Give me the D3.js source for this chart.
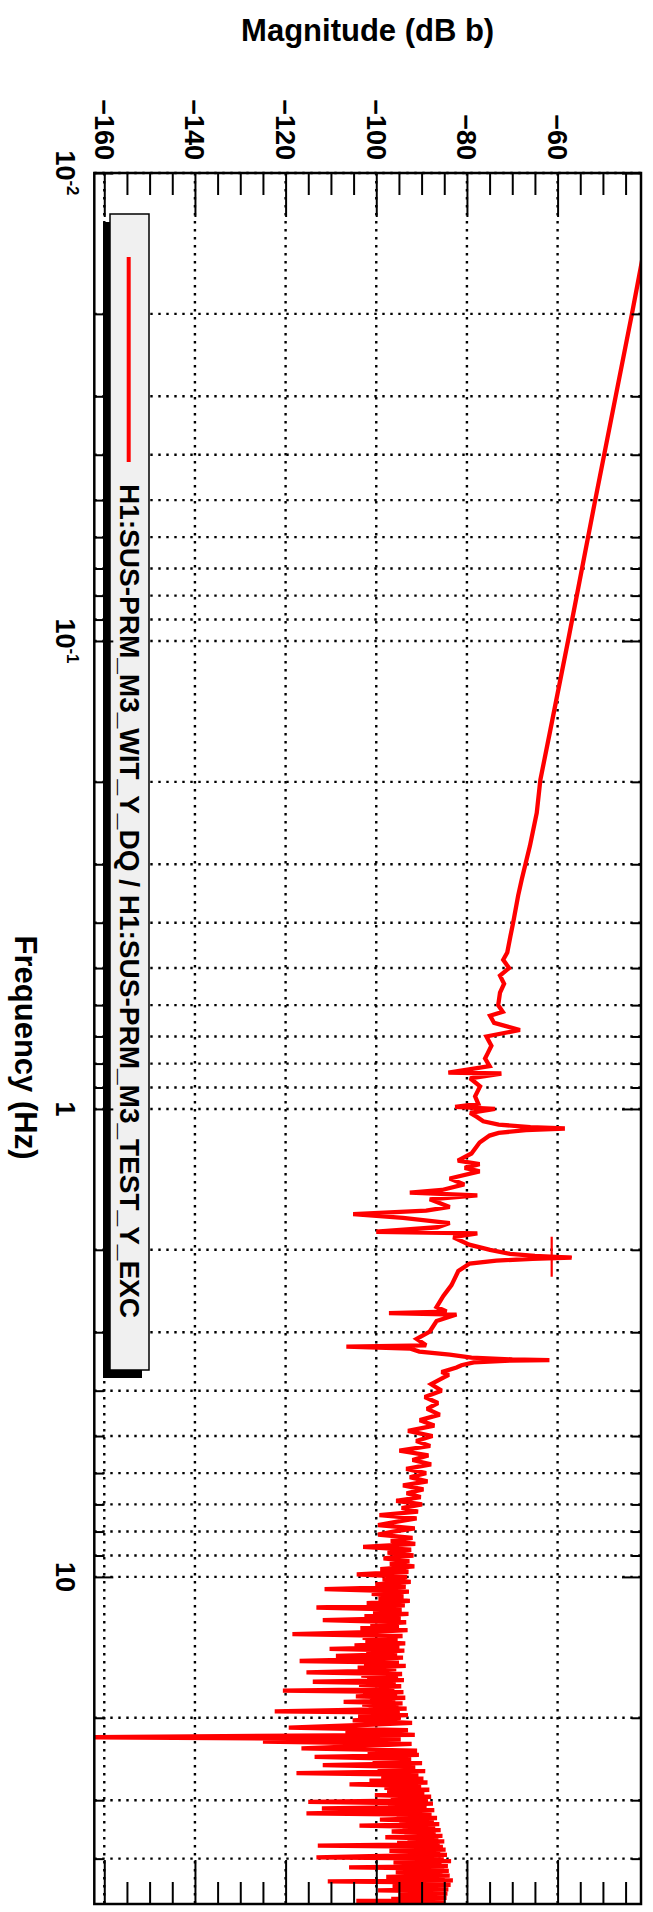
<!DOCTYPE html>
<html>
<head>
<meta charset="utf-8">
<script src="https://cdn.jsdelivr.net/npm/d3@7"></script>
<style>
  body { margin: 0; background: #fff; }
  svg { display: block; }
  text { font-family: "Liberation Sans", Arial, sans-serif; font-weight: bold; fill: #000; }
</style>
</head>
<body>
<svg id="chart" width="653" height="1912"></svg>
<script>
// axis ranges and ticks
const freqDomain = [0.01, 50];
const magDomain = [-162.2, -41.6];
const magMajor = [-160, -140, -120, -100, -80, -60];
const magMinor = [-155, -150, -145, -135, -130, -125, -115, -110, -105, -95, -90, -85, -75, -70, -65, -55, -50, -45];
const freqMajor = [0.01, 0.1, 1, 10];
const freqMinor = [0.02, 0.03, 0.04, 0.05, 0.06, 0.07, 0.08, 0.09,
  0.2, 0.3, 0.4, 0.5, 0.6, 0.7, 0.8, 0.9,
  2, 3, 4, 5, 6, 7, 8, 9, 20, 30, 40];
const freqLabelBase = ["10", "10", "1", "10"];
const freqLabelExp = ["-2", "-1", "", ""];

// transfer function magnitude, hand read: smooth part up to 3.7 Hz
const lowFreq = [0.01, 0.02, 0.05, 0.1, 0.155, 0.198, 0.233, 0.274, 0.323, 0.35, 0.4, 0.427, 0.463, 0.48, 0.5,
  0.519, 0.54, 0.564, 0.6, 0.62, 0.632, 0.655, 0.678, 0.7, 0.733, 0.76, 0.78, 0.81, 0.836, 0.84, 0.86, 0.895,
  0.94, 0.975, 0.99, 1.0, 1.02, 1.04, 1.063, 1.08, 1.094, 1.101, 1.11, 1.125, 1.14, 1.18, 1.245, 1.29, 1.312,
  1.336, 1.36, 1.408, 1.45, 1.49, 1.51, 1.53, 1.56, 1.62, 1.65, 1.678, 1.71, 1.753, 1.79, 1.83, 1.845, 1.88,
  1.95, 2.0, 2.04, 2.06, 2.078, 2.09, 2.11, 2.14, 2.22, 2.38, 2.51, 2.65, 2.71, 2.73, 2.75, 2.84, 2.99, 3.1,
  3.2, 3.22, 3.25, 3.3, 3.35, 3.4, 3.43, 3.44, 3.45, 3.48, 3.53, 3.57, 3.65, 3.7];
const lowMag = [-37.7, -43.6, -51.7, -57.7, -61.6, -63.8, -64.6, -66.1, -67.9, -68.7, -69.8, -70.4, -71.1, -72.0, -70.7,
  -72.7, -71.8, -72.7, -73.1, -72.1, -74.9, -74.0, -68.3, -75.7, -74.6, -75.4, -76.0, -75.0, -84.1, -72.4, -79.3, -77.1,
  -78.2, -77.5, -82.6, -73.8, -79.3, -77.8, -76.4, -73.0, -66.0, -58.4, -67.0, -73.0, -75.0, -77.2, -79.0, -82.0, -77.2,
  -80.5, -77.2, -83.8, -80.6, -85.5, -92.6, -77.7, -88.2, -83.8, -89.0, -105.1, -94.1, -83.8, -86.5, -100.0, -77.7, -83.0,
  -79.5, -74.9, -70.5, -65.0, -56.9, -65.5, -73.5, -79.4, -81.9, -83.4, -85.2, -86.7, -84.5, -97.2, -82.3, -86.7, -88.2, -91.1,
  -89.0, -106.6, -92.6, -90.5, -83.8, -79.0, -70.0, -61.8, -70.5, -78.5, -81.2, -82.3, -85.6, -84.0];

// noisy part, bins from 3.75 Hz every 0.125 Hz up to 20 Hz
const noiseAStart = 3.75, noiseAStep = 0.125;
const noiseAMag = [-85.2, -87.9, -85.6, -89.3, -86.4, -88.8, -86.0, -90.4, -87.2, -93.0,
  -87.6, -91.2, -88.1, -94.9, -88.5, -92.0, -87.9, -93.4, -89.0, -92.6,
  -88.7, -94.1, -89.6, -93.3, -90.2, -95.6, -89.9, -94.4, -90.8, -99.3,
  -91.1, -95.7, -99.6, -91.5, -96.3, -99.6, -92.0, -96.8, -91.4, -102.9,
  -92.3, -97.5, -91.8, -98.4, -92.7, -97.0, -91.6, -99.1, -92.9, -104.3,
  -93.2, -98.6, -92.4, -100.2, -93.5, -111.4, -92.8, -101.0, -94.0, -99.5,
  -92.6, -102.1, -93.7, -113.2, -94.4, -100.7, -92.9, -102.6, -94.6, -111.8,
  -93.4, -101.3, -95.0, -103.5, -93.1, -101.9, -118.5, -94.2, -103.0, -95.3,
  -102.4, -93.6, -104.8, -94.9, -110.3, -93.8, -102.2, -95.4, -108.9, -94.1,
  -103.6, -116.9, -95.0, -102.7, -93.5, -104.1, -95.6, -101.8, -115.4, -94.3,
  -103.3, -95.2, -102.0, -93.9, -114.0, -95.7, -103.8, -94.5, -101.6, -96.0,
  -120.6, -94.0, -102.9, -95.4, -104.5, -93.6, -101.4, -95.8, -107.2, -94.2,
  -103.1, -95.1, -101.7, -93.3, -105.8, -122.4, -94.8, -102.5, -93.0, -104.0,
  -94.6];

// noisy part, bins from 20.25 Hz every 0.25 Hz up to 50 Hz
const noiseBStart = 20.25, noiseBStep = 0.25;
const noiseBMag = [-105.2, -92.1, -104.4, -119.3, -93.0, -106.8, -91.5, -165.0, -94.6, -125.0,
  -92.2, -103.7, -116.5, -91.0, -101.9, -90.6, -113.6, -92.3, -100.8, -89.9,
  -111.8, -91.4, -99.7, -89.2, -117.6, -90.7, -98.9, -89.6, -101.5, -88.7,
  -105.9, -90.1, -98.2, -88.3, -97.6, -89.4, -100.3, -87.9, -96.8, -88.6,
  -115.0, -87.5, -97.4, -88.9, -112.0, -87.2, -96.1, -115.4, -87.8, -95.5,
  -86.6, -99.2, -87.3, -94.9, -86.1, -103.7, -87.0, -94.2, -85.8, -96.6,
  -86.9, -93.8, -85.4, -98.0, -86.3, -93.1, -85.0, -95.4, -86.0, -112.9,
  -85.3, -93.6, -84.7, -97.1, -85.9, -92.8, -84.4, -101.5, -113.2, -85.1,
  -93.4, -83.5, -96.2, -85.6, -92.5, -84.2, -106.0, -85.0, -93.0, -84.0,
  -95.7, -85.4, -92.1, -83.8, -97.8, -84.9, -92.7, -83.1, -110.7, -84.6,
  -93.3, -83.6, -96.4, -85.2, -92.4, -84.1, -99.6, -85.5, -92.9, -84.3,
  -95.1, -85.8, -93.5, -84.5, -96.7, -85.9, -104.4, -84.8, -94.0, -86.2];

// cross marker on the 2 Hz peak
const markerFreq = 2.07, markerMag = -61.3;
const legendLabel = "H1:SUS-PRM_M3_WIT_Y_DQ / H1:SUS-PRM_M3_TEST_Y_EXC";

const frame = { left: 94.3, right: 641, top: 173, bottom: 1904 };

const svg = d3.select("#chart");

const y = d3.scaleLog().domain(freqDomain).range([frame.top, frame.bottom]);
const x = d3.scaleLinear().domain(magDomain).range([frame.left, frame.right]);

const points = lowFreq.map((f, i) => [f, lowMag[i]])
  .concat(noiseAMag.map((m, i) => [noiseAStart + i * noiseAStep, m]))
  .concat(noiseBMag.map((m, i) => [noiseBStart + i * noiseBStep, m]));

svg.append("defs").append("clipPath").attr("id", "clip")
  .append("rect")
  .attr("x", frame.left).attr("y", frame.top)
  .attr("width", frame.right - frame.left).attr("height", frame.bottom - frame.top);

// dotted grid
const grid = svg.append("g")
  .attr("stroke", "#000").attr("stroke-width", 2.4).attr("stroke-dasharray", "2.4 5.6");
grid.selectAll("line.fg")
  .data(freqMajor.concat(freqMinor))
  .join("line")
  .attr("x1", frame.left).attr("x2", frame.right)
  .attr("y1", d => y(d)).attr("y2", d => y(d));
grid.selectAll("line.mg")
  .data(magMajor)
  .join("line")
  .attr("x1", d => x(d)).attr("x2", d => x(d))
  .attr("y1", frame.top).attr("y2", frame.bottom);

// curve
const line = d3.line().x(d => x(d[1])).y(d => y(d[0]));
svg.append("path")
  .datum(points)
  .attr("clip-path", "url(#clip)")
  .attr("fill", "none")
  .attr("stroke", "#ff0000")
  .attr("stroke-width", 4.3)
  .attr("stroke-linejoin", "miter")
  .attr("stroke-miterlimit", 2)
  .attr("d", line);

const mx = x(markerMag), my = y(markerFreq);
svg.append("path")
  .attr("stroke", "#ff0000").attr("stroke-width", 2.2)
  .attr("d", `M${mx - 20},${my}H${mx + 20}M${mx},${my - 20}V${my + 20}`);

// legend box with shadow
const leg = { x: 110, y: 214, w: 39, h: 1156 };
svg.append("rect")
  .attr("x", leg.x - 7).attr("y", leg.y + 8)
  .attr("width", leg.w).attr("height", leg.h)
  .attr("fill", "#000");
svg.append("rect")
  .attr("x", leg.x).attr("y", leg.y)
  .attr("width", leg.w).attr("height", leg.h)
  .attr("fill", "#f0f0f0").attr("stroke", "#000").attr("stroke-width", 1.5);
svg.append("line")
  .attr("x1", 128.7).attr("x2", 128.7)
  .attr("y1", 257).attr("y2", 462)
  .attr("stroke", "#ff0000").attr("stroke-width", 4);
svg.append("text")
  .attr("transform", "translate(119.5,484) rotate(90)")
  .attr("font-size", 28)
  .text(legendLabel);

// frame
svg.append("rect")
  .attr("x", frame.left).attr("y", frame.top)
  .attr("width", frame.right - frame.left).attr("height", frame.bottom - frame.top)
  .attr("fill", "none").attr("stroke", "#000").attr("stroke-width", 2.5);

// ticks through d3 axes (inward)
function ticks(axis, tx, ty) {
  const g = svg.append("g").attr("transform", `translate(${tx},${ty})`).call(axis.tickFormat(""));
  g.select(".domain").remove();
  g.selectAll("line").attr("stroke", "#000").attr("stroke-width", 2);
}
ticks(d3.axisTop(x).tickValues(magMajor).tickSize(-44), 0, frame.top);
ticks(d3.axisTop(x).tickValues(magMinor).tickSize(-22), 0, frame.top);
ticks(d3.axisBottom(x).tickValues(magMajor).tickSize(-44), 0, frame.bottom);
ticks(d3.axisBottom(x).tickValues(magMinor).tickSize(-22), 0, frame.bottom);
ticks(d3.axisLeft(y).tickValues(freqMajor).tickSize(-19), frame.left, 0);
ticks(d3.axisLeft(y).tickValues(freqMinor).tickSize(-9.5), frame.left, 0);
ticks(d3.axisRight(y).tickValues(freqMajor).tickSize(-19), frame.right, 0);
ticks(d3.axisRight(y).tickValues(freqMinor).tickSize(-9.5), frame.right, 0);

// magnitude labels, rotated like the rest of the page
svg.append("g").selectAll("text")
  .data(magMajor)
  .join("text")
  .attr("transform", d => `translate(${x(d) - 9.7},160) rotate(90)`)
  .attr("text-anchor", "end")
  .attr("font-size", 27)
  .text(d => d3.format("d")(d));

// frequency labels
const fl = svg.append("g").selectAll("text")
  .data(freqMajor)
  .join("text")
  .attr("transform", d => `translate(56,${y(d)}) rotate(90)`)
  .attr("text-anchor", "middle")
  .attr("font-size", 27);
fl.append("tspan").text((d, i) => freqLabelBase[i]);
fl.append("tspan")
  .attr("dy", -11).attr("font-size", 17)
  .text((d, i) => freqLabelExp[i]);

// axis titles
svg.append("text")
  .attr("x", (frame.left + frame.right) / 2).attr("y", 41)
  .attr("text-anchor", "middle").attr("font-size", 31)
  .text("Magnitude (dB b)");
svg.append("text")
  .attr("transform", `translate(14.5,${(frame.top + frame.bottom) / 2 + 9}) rotate(90)`)
  .attr("text-anchor", "middle").attr("font-size", 31)
  .text("Frequency (Hz)");
</script>
</body>
</html>
